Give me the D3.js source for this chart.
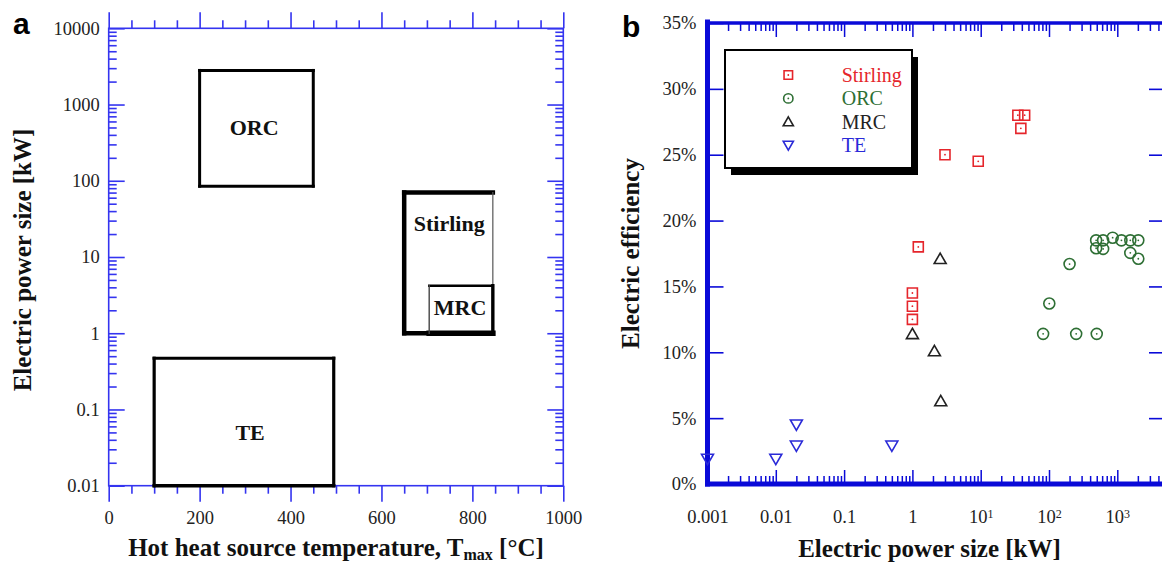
<!DOCTYPE html>
<html><head><meta charset="utf-8">
<script src="https://cdn.jsdelivr.net/npm/d3@7"></script>
<style>body{margin:0;background:#fff} svg{display:block}</style>
</head><body>
<svg id="c" width="1162" height="565"></svg>
<script>
// ---------- Panel a data ----------
const techNames = ["ORC", "Stirling", "MRC", "TE"];
const techTmin = [200, 650, 705, 100];
const techTmax = [450, 845, 845, 495];
const techPmin = [85, 1, 1, 0.01];
const techPmax = [2800, 70, 4.2, 0.47];
const techLabelT = [320, 749, 773, 311];
const techLabelP = [500, 27.4, 2.17, 0.05];
const tempTicks = [0, 200, 400, 600, 800, 1000];
const powerTicks = [0.01, 0.1, 1, 10, 100, 1000, 10000];
const powerTickLabels = ["0.01", "0.1", "1", "10", "100", "1000", "10000"];

// ---------- Panel b data ----------
const seriesNames = ["Stirling", "ORC", "MRC", "TE"];
const stirlingKW  = [1.22, 1, 1, 1, 3, 9.2, 35, 44, 38.7];
const stirlingEff = [18.0, 14.5, 13.5, 12.5, 25.0, 24.5, 28.0, 28.0, 27.0];
const orcKW  = [82, 101, 200, 250, 500, 490, 490, 620, 620, 855, 1150, 1550, 1550, 2030, 2030];
const orcEff = [11.4, 13.7, 16.7, 11.4, 11.4, 18.5, 17.9, 18.5, 17.85, 18.7, 18.5, 18.5, 17.55, 18.5, 17.1];
const mrcKW  = [1, 2.1, 2.55, 2.6];
const mrcEff = [11.3, 10.0, 17.0, 6.2];
const teKW  = [0.001, 0.01, 0.02, 0.02, 0.5];
const teEff = [2.0, 2.0, 4.6, 3.0, 3.0];
const effTicks = [0, 5, 10, 15, 20, 25, 30, 35];
const sizeTicks = [0.001, 0.01, 0.1, 1, 10, 100, 1000];
const sizeTickBase = ["0.001", "0.01", "0.1", "1", "10", "10", "10"];
const sizeTickExp  = ["", "", "", "", "1", "2", "3"];

const serif = "'Liberation Serif','Times New Roman',serif";
const sans = "'Liberation Sans',Arial,sans-serif";
const svg = d3.select("#c");
svg.append("rect").attr("width", 1162).attr("height", 565).attr("fill", "#fff");

function styleAxis(g, color, w) {
  g.select(".domain").remove();
  g.selectAll(".tick line").attr("stroke", color).attr("stroke-width", w);
  g.selectAll(".tick text").attr("font-family", serif).attr("font-size", 18.5).attr("fill", "#222");
}

// ================= Panel a =================
const blueA = "#3434f0";
const xA = d3.scaleLinear().domain([0, 1000]).range([108.7, 563.3]);
const yA = d3.scaleLog().domain([0.01, 10000]).range([485.7, 28.3]);
const ga = svg.append("g");
const xMinorA = d3.range(0, 1001, 50).filter(v => v % 200 !== 0);
const yMinorA = yA.ticks().filter(v => Math.abs(Math.log10(v) - Math.round(Math.log10(v))) > 1e-6);

ga.append("g").attr("transform", "translate(0,485.7)")
  .call(d3.axisBottom(xA).tickValues(xMinorA).tickSize(8).tickFormat(""))
  .call(g => styleAxis(g, blueA, 1.6));
ga.append("g").attr("transform", "translate(0,485.7)")
  .call(d3.axisBottom(xA).tickValues(tempTicks).tickSize(16).tickPadding(9).tickFormat(d3.format("d")))
  .call(g => styleAxis(g, blueA, 1.6));
ga.append("g").attr("transform", "translate(0,28.3)")
  .call(d3.axisTop(xA).tickValues(xMinorA).tickSize(8).tickFormat(""))
  .call(g => styleAxis(g, blueA, 1.6));
ga.append("g").attr("transform", "translate(0,28.3)")
  .call(d3.axisTop(xA).tickValues(tempTicks).tickSize(16).tickFormat(""))
  .call(g => styleAxis(g, blueA, 1.6));
ga.append("g").attr("transform", "translate(108.7,0)")
  .call(d3.axisLeft(yA).tickValues(yMinorA).tickSize(-8).tickFormat(""))
  .call(g => styleAxis(g, blueA, 1.6));
ga.append("g").attr("transform", "translate(108.7,0)")
  .call(d3.axisLeft(yA).tickValues(powerTicks).tickSizeInner(-16).tickSizeOuter(0).tickPadding(9)
    .tickFormat((d, i) => powerTickLabels[i]))
  .call(g => styleAxis(g, blueA, 1.6));
ga.append("g").attr("transform", "translate(563.3,0)")
  .call(d3.axisRight(yA).tickValues(yMinorA).tickSize(-8).tickFormat(""))
  .call(g => styleAxis(g, blueA, 1.6));
ga.append("g").attr("transform", "translate(563.3,0)")
  .call(d3.axisRight(yA).tickValues(powerTicks).tickSize(-16).tickFormat(""))
  .call(g => styleAxis(g, blueA, 1.6));
ga.append("rect").attr("x", xA(0)).attr("y", yA(10000))
  .attr("width", xA(1000) - xA(0)).attr("height", yA(0.01) - yA(10000))
  .attr("fill", "none").attr("stroke", blueA).attr("stroke-width", 1.6);

// boxes: per side widths [top, right, bottom, left]
const boxSideW = [[3, 3, 3, 3], [4.5, 1.2, 4.3, 4.5], [2.4, 3.4, 5.6, 1.4], [3.2, 3.2, 3.4, 3.2]];
const boxSideC = [["#000","#000","#000","#000"], ["#000","#555","#000","#000"], ["#000","#000","#000","#444"], ["#000","#000","#000","#000"]];
techNames.forEach((name, i) => {
  const x0 = xA(techTmin[i]), x1 = xA(techTmax[i]);
  const y0 = yA(techPmax[i]), y1 = yA(techPmin[i]);
  const sides = [[x0, y0, x1, y0], [x1, y0, x1, y1], [x0, y1, x1, y1], [x0, y0, x0, y1]];
  sides.forEach((s, k) => {
    ga.append("line").attr("x1", s[0]).attr("y1", s[1]).attr("x2", s[2]).attr("y2", s[3])
      .attr("stroke", boxSideC[i][k]).attr("stroke-width", boxSideW[i][k]).attr("stroke-linecap", "square");
  });
  ga.append("text").attr("x", xA(techLabelT[i])).attr("y", yA(techLabelP[i])).attr("dy", "0.33em")
    .attr("text-anchor", "middle").attr("font-family", serif).attr("font-weight", "bold")
    .attr("font-size", 22).attr("fill", "#111").text(name);
});

// titles a
ga.append("text").attr("x", 13).attr("y", 34).attr("font-family", sans).attr("font-weight", "bold")
  .attr("font-size", 30).attr("fill", "#000").text("a");
const xt = ga.append("text").attr("x", 336).attr("y", 556).attr("text-anchor", "middle")
  .attr("font-family", serif).attr("font-weight", "bold").attr("font-size", 25).attr("fill", "#111");
xt.append("tspan").text("Hot heat source temperature, T");
xt.append("tspan").attr("dy", 4).attr("font-size", 16).text("max");
xt.append("tspan").attr("dy", -4).text(" [°C]");
ga.append("text").attr("transform", "translate(31,260) rotate(-90)").attr("text-anchor", "middle")
  .attr("font-family", serif).attr("font-weight", "bold").attr("font-size", 25).attr("fill", "#111")
  .text("Electric power size [kW]");

// ================= Panel b =================
const blueB = "#0a0ad8";
const xB = d3.scaleLog().domain([0.001, 5000]).range([707.5, 707.5 + Math.log10(5000 / 0.001) * 68.3]);
const yB = d3.scaleLinear().domain([0, 35]).range([484, 23]);
const gb = svg.append("g");
const xMinorB = [];
for (let e = -3; e <= 3; e++) for (let m = 2; m <= 9; m++) { const v = m * Math.pow(10, e); if (v < 5000) xMinorB.push(v); }

gb.append("g").attr("transform", "translate(0,484)")
  .call(d3.axisBottom(xB).tickValues(xMinorB).tickSize(-8).tickFormat(""))
  .call(g => styleAxis(g, blueB, 1.5));
const xAxB = gb.append("g").attr("transform", "translate(0,484)")
  .call(d3.axisBottom(xB).tickValues(sizeTicks).tickSizeInner(-14).tickSizeOuter(0).tickPadding(26)
    .tickFormat((d, i) => sizeTickBase[i]))
  .call(g => styleAxis(g, blueB, 1.5));
xAxB.selectAll(".tick text").each(function (d, i) {
  if (sizeTickExp[i]) {
    d3.select(this).append("tspan").attr("dy", "-0.45em").attr("font-size", 12).text(sizeTickExp[i]);
  }
});
gb.append("g").attr("transform", "translate(0,23)")
  .call(d3.axisTop(xB).tickValues(xMinorB).tickSize(-8).tickFormat(""))
  .call(g => styleAxis(g, blueB, 1.5));
gb.append("g").attr("transform", "translate(0,23)")
  .call(d3.axisTop(xB).tickValues(sizeTicks).tickSize(-14).tickFormat(""))
  .call(g => styleAxis(g, blueB, 1.5));
gb.append("g").attr("transform", "translate(707.5,0)")
  .call(d3.axisLeft(yB).tickValues(effTicks).tickSizeInner(-16).tickSizeOuter(0).tickPadding(11)
    .tickFormat(d => d + "%"))
  .call(g => styleAxis(g, blueB, 1.6));
gb.append("g").attr("transform", "translate(1165,0)")
  .call(d3.axisRight(yB).tickValues(effTicks.slice(1, -1)).tickSize(-16).tickFormat(""))
  .call(g => styleAxis(g, blueB, 1.6));
// frame
gb.append("line").attr("x1", 707.5).attr("x2", 1165).attr("y1", 23).attr("y2", 23).attr("stroke", blueB).attr("stroke-width", 3.5);
gb.append("line").attr("x1", 707.5).attr("x2", 1165).attr("y1", 484).attr("y2", 484).attr("stroke", blueB).attr("stroke-width", 5).attr("stroke-linecap", "square");
gb.append("line").attr("x1", 707.5).attr("x2", 707.5).attr("y1", 22).attr("y2", 484).attr("stroke", blueB).attr("stroke-width", 5).attr("stroke-linecap", "square");

// legend
const colors = ["#e5252b", "#2e6f34", "#222222", "#2a2ad8"];
const symbols = [d3.symbolSquare, d3.symbolCircle, d3.symbolTriangle, d3.symbolTriangle];
const symSize = [100, 95, 62, 62];
const symRot = [0, 0, 0, 180];
const dotted = [true, true, false, false];
gb.append("rect").attr("x", 731).attr("y", 57).attr("width", 187).attr("height", 118).attr("fill", "#000");
gb.append("rect").attr("x", 725).attr("y", 50).attr("width", 187).attr("height", 118)
  .attr("fill", "#fff").attr("stroke", "#000").attr("stroke-width", 2);

function marker(g, x, y, i, scale) {
  const s = scale || 1;
  g.append("path").attr("d", d3.symbol().type(symbols[i]).size(symSize[i] * s * s)())
    .attr("transform", `translate(${x},${y}) rotate(${symRot[i]})`)
    .attr("fill", "none").attr("stroke", colors[i]).attr("stroke-width", 1.6);
  if (dotted[i]) g.append("circle").attr("cx", x).attr("cy", y).attr("r", 0.9).attr("fill", colors[i]);
}
seriesNames.forEach((n, i) => {
  const ry = 75 + i * 23.4;
  marker(gb, 788.3, ry + (i === 2 ? 1 : i === 3 ? -1 : 0), i, 0.85);
  gb.append("text").attr("x", 841.7).attr("y", ry + 7).attr("font-family", serif)
    .attr("font-size", 20).attr("fill", colors[i]).text(n);
});

// points
const dataKW = [stirlingKW, orcKW, mrcKW, teKW];
const dataEff = [stirlingEff, orcEff, mrcEff, teEff];
dataKW.forEach((arr, i) => {
  arr.forEach((v, j) => marker(gb, xB(v), yB(dataEff[i][j]), i, 1));
});

// titles b
gb.append("text").attr("x", 622).attr("y", 37).attr("font-family", sans).attr("font-weight", "bold")
  .attr("font-size", 30).attr("fill", "#000").text("b");
gb.append("text").attr("x", 929.5).attr("y", 557).attr("text-anchor", "middle")
  .attr("font-family", serif).attr("font-weight", "bold").attr("font-size", 25).attr("fill", "#111")
  .text("Electric power size [kW]");
gb.append("text").attr("transform", "translate(639,253.5) rotate(-90)").attr("text-anchor", "middle")
  .attr("font-family", serif).attr("font-weight", "bold").attr("font-size", 25).attr("fill", "#111")
  .text("Electric efficiency");
</script>
</body></html>
